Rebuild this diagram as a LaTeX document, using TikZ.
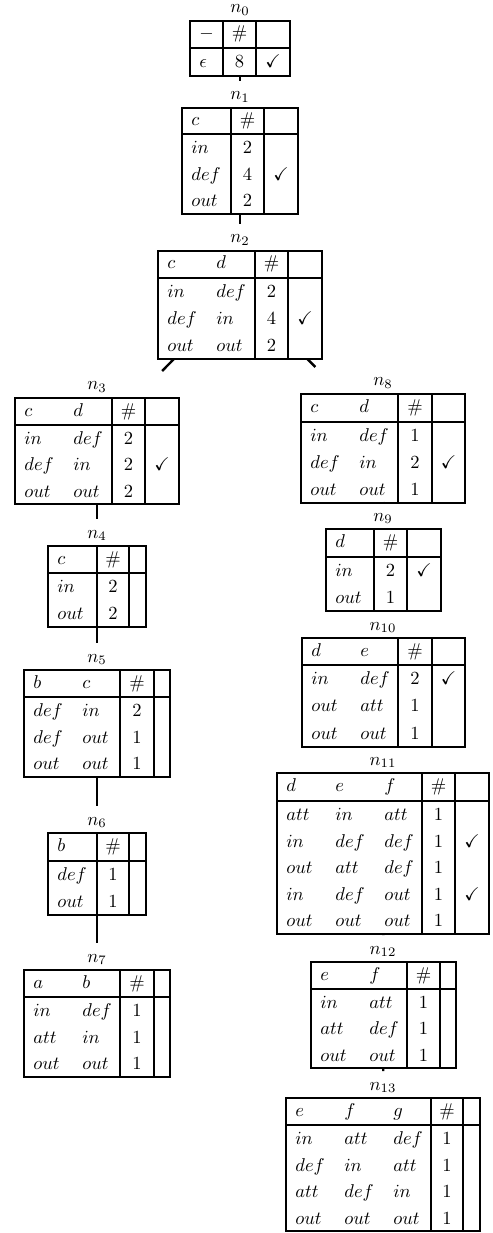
\documentclass[tikz,border=0pt]{standalone}
\usepackage{amssymb}
\usetikzlibrary{fit}
\tikzset{
  tline/.style={line width=1.3pt},
  conn/.style={line width=1.3pt},
  nmtxt/.style={anchor=base west, inner sep=0pt},
  cttxt/.style={anchor=base, inner sep=0pt},
  lbl/.style={anchor=base, inner sep=0pt},
  tbox/.style={inner sep=0pt, outer sep=0pt, draw=none},
}
\newcommand\Lc[4]{\node[nmtxt] (#1) at (#2,#3) {$#4$};}
\newcommand\Cc[4]{\node[cttxt] (#1) at (#2,#3) {$#4$};}
\newcommand\tabgrid[7]{%
  \draw[tline] (#1,#5) rectangle (#4,#7);
  \draw[tline] (#1,#6) -- (#4,#6);
  \draw[tline] (#2,#5) -- (#2,#7);
  \draw[tline] (#3,#5) -- (#3,#7);}
\begin{document}
\begin{tikzpicture}[x=0.54pt,y=-0.54pt]
\useasboundingbox (0,0) rectangle (493,1233);

% n0
\tabgrid{190}{223}{256}{290}{21}{48}{76}
\node[lbl] (l0) at (240,13) {$n_{0}$};
\Lc{t0-0-1}{199}{39}{-}
\Cc{t0-0-2}{239.5}{39}{\#}
\Lc{t0-1-1}{199}{67.5}{\epsilon}
\Cc{t0-1-2}{239.5}{67.5}{8}
\Cc{t0-1-3}{273}{67.5}{\checkmark}
\node[tbox, fit={(190,-6) (290,76)}] (n0) {};

% n1
\tabgrid{182}{231}{264}{298}{108}{134}{214}
\node[lbl] (l1) at (240,100) {$n_{1}$};
\Lc{t1-0-1}{191}{126}{c}
\Cc{t1-0-2}{247.5}{126}{\#}
\Lc{t1-1-1}{191}{153.5}{in}
\Cc{t1-1-2}{247.5}{153.5}{2}
\Lc{t1-2-1}{191}{180.2}{def}
\Cc{t1-2-2}{247.5}{180.2}{4}
\Cc{t1-2-3}{281}{180.2}{\checkmark}
\Lc{t1-3-1}{191}{206.8}{out}
\Cc{t1-3-2}{247.5}{206.8}{2}
\node[tbox, fit={(182,81) (298,214)}] (n1) {};

% n2
\tabgrid{158}{255}{288}{322}{251}{278}{359}
\node[lbl] (l2) at (240,243) {$n_{2}$};
\Lc{t2-0-1}{167}{269}{c}
\Lc{t2-0-2}{216}{269}{d}
\Cc{t2-0-3}{271.5}{269}{\#}
\Lc{t2-1-1}{167}{297.5}{in}
\Lc{t2-1-2}{216}{297.5}{def}
\Cc{t2-1-3}{271.5}{297.5}{2}
\Lc{t2-2-1}{167}{324.5}{def}
\Lc{t2-2-2}{216}{324.5}{in}
\Cc{t2-2-3}{271.5}{324.5}{4}
\Cc{t2-2-4}{305}{324.5}{\checkmark}
\Lc{t2-3-1}{167}{351.5}{out}
\Lc{t2-3-2}{216}{351.5}{out}
\Cc{t2-3-3}{271.5}{351.5}{2}
\node[tbox, fit={(158,224) (322,359)}] (n2) {};

% n3
\tabgrid{15}{112}{145}{179}{398}{425}{504}
\node[lbl] (l3) at (97,390) {$n_{3}$};
\Lc{t3-0-1}{24}{416}{c}
\Lc{t3-0-2}{73}{416}{d}
\Cc{t3-0-3}{128.5}{416}{\#}
\Lc{t3-1-1}{24}{444.5}{in}
\Lc{t3-1-2}{73}{444.5}{def}
\Cc{t3-1-3}{128.5}{444.5}{2}
\Lc{t3-2-1}{24}{470.8}{def}
\Lc{t3-2-2}{73}{470.8}{in}
\Cc{t3-2-3}{128.5}{470.8}{2}
\Cc{t3-2-4}{162}{470.8}{\checkmark}
\Lc{t3-3-1}{24}{497.2}{out}
\Lc{t3-3-2}{73}{497.2}{out}
\Cc{t3-3-3}{128.5}{497.2}{2}
\node[tbox, fit={(15,371) (179,504)}] (n3) {};

% n4
\tabgrid{48}{97}{129}{146}{546}{573}{627}
\node[lbl] (l4) at (97,538) {$n_{4}$};
\Lc{t4-0-1}{57}{564}{c}
\Cc{t4-0-2}{113}{564}{\#}
\Lc{t4-1-1}{57}{592.5}{in}
\Cc{t4-1-2}{113}{592.5}{2}
\Lc{t4-2-1}{57}{619.5}{out}
\Cc{t4-2-2}{113}{619.5}{2}
\node[tbox, fit={(48,519) (146,627)}] (n4) {};

% n5
\tabgrid{24}{120}{154}{170}{670}{697}{777}
\node[lbl] (l5) at (97,662) {$n_{5}$};
\Lc{t5-0-1}{33}{688}{b}
\Lc{t5-0-2}{82}{688}{c}
\Cc{t5-0-3}{137}{688}{\#}
\Lc{t5-1-1}{33}{716.5}{def}
\Lc{t5-1-2}{82}{716.5}{in}
\Cc{t5-1-3}{137}{716.5}{2}
\Lc{t5-2-1}{33}{743.2}{def}
\Lc{t5-2-2}{82}{743.2}{out}
\Cc{t5-2-3}{137}{743.2}{1}
\Lc{t5-3-1}{33}{769.8}{out}
\Lc{t5-3-2}{82}{769.8}{out}
\Cc{t5-3-3}{137}{769.8}{1}
\node[tbox, fit={(24,643) (170,777)}] (n5) {};

% n6
\tabgrid{48}{97}{129}{146}{833}{861}{915}
\node[lbl] (l6) at (97,825) {$n_{6}$};
\Lc{t6-0-1}{57}{851}{b}
\Cc{t6-0-2}{113}{851}{\#}
\Lc{t6-1-1}{57}{880.5}{def}
\Cc{t6-1-2}{113}{880.5}{1}
\Lc{t6-2-1}{57}{907.5}{out}
\Cc{t6-2-2}{113}{907.5}{1}
\node[tbox, fit={(48,806) (146,915)}] (n6) {};

% n7
\tabgrid{24}{120}{154}{170}{970}{997}{1077}
\node[lbl] (l7) at (97,962) {$n_{7}$};
\Lc{t7-0-1}{33}{988}{a}
\Lc{t7-0-2}{82}{988}{b}
\Cc{t7-0-3}{137}{988}{\#}
\Lc{t7-1-1}{33}{1016.5}{in}
\Lc{t7-1-2}{82}{1016.5}{def}
\Cc{t7-1-3}{137}{1016.5}{1}
\Lc{t7-2-1}{33}{1043.2}{att}
\Lc{t7-2-2}{82}{1043.2}{in}
\Cc{t7-2-3}{137}{1043.2}{1}
\Lc{t7-3-1}{33}{1069.8}{out}
\Lc{t7-3-2}{82}{1069.8}{out}
\Cc{t7-3-3}{137}{1069.8}{1}
\node[tbox, fit={(24,943) (170,1077)}] (n7) {};

% n8
\tabgrid{301}{398}{432}{465}{394}{422}{503}
\node[lbl] (l8) at (383,386) {$n_{8}$};
\Lc{t8-0-1}{310}{412}{c}
\Lc{t8-0-2}{359}{412}{d}
\Cc{t8-0-3}{415}{412}{\#}
\Lc{t8-1-1}{310}{441.5}{in}
\Lc{t8-1-2}{359}{441.5}{def}
\Cc{t8-1-3}{415}{441.5}{1}
\Lc{t8-2-1}{310}{468.5}{def}
\Lc{t8-2-2}{359}{468.5}{in}
\Cc{t8-2-3}{415}{468.5}{2}
\Cc{t8-2-4}{448.5}{468.5}{\checkmark}
\Lc{t8-3-1}{310}{495.5}{out}
\Lc{t8-3-2}{359}{495.5}{out}
\Cc{t8-3-3}{415}{495.5}{1}
\node[tbox, fit={(301,367) (465,503)}] (n8) {};

% n9
\tabgrid{326}{374}{407}{441}{529}{557}{611}
\node[lbl] (l9) at (383,521) {$n_{9}$};
\Lc{t9-0-1}{335}{547}{d}
\Cc{t9-0-2}{390.5}{547}{\#}
\Lc{t9-1-1}{335}{576.5}{in}
\Cc{t9-1-2}{390.5}{576.5}{2}
\Cc{t9-1-3}{424}{576.5}{\checkmark}
\Lc{t9-2-1}{335}{603.5}{out}
\Cc{t9-2-2}{390.5}{603.5}{1}
\node[tbox, fit={(326,502) (441,611)}] (n9) {};

% n10
\tabgrid{302}{398}{432}{465}{638}{665}{747}
\node[lbl] (l10) at (383,630) {$n_{10}$};
\Lc{t10-0-1}{311}{656}{d}
\Lc{t10-0-2}{360}{656}{e}
\Cc{t10-0-3}{415}{656}{\#}
\Lc{t10-1-1}{311}{684.5}{in}
\Lc{t10-1-2}{360}{684.5}{def}
\Cc{t10-1-3}{415}{684.5}{2}
\Cc{t10-1-4}{448.5}{684.5}{\checkmark}
\Lc{t10-2-1}{311}{711.8}{out}
\Lc{t10-2-2}{360}{711.8}{att}
\Cc{t10-2-3}{415}{711.8}{1}
\Lc{t10-3-1}{311}{739.2}{out}
\Lc{t10-3-2}{360}{739.2}{out}
\Cc{t10-3-3}{415}{739.2}{1}
\node[tbox, fit={(302,611) (465,747)}] (n10) {};

% n11
\tabgrid{277}{422}{455}{489}{773}{801}{934}
\node[lbl] (l11) at (383,765) {$n_{11}$};
\Lc{t11-0-1}{286}{791}{d}
\Lc{t11-0-2}{335}{791}{e}
\Lc{t11-0-3}{384}{791}{f}
\Cc{t11-0-4}{438.5}{791}{\#}
\Lc{t11-1-1}{286}{820.5}{att}
\Lc{t11-1-2}{335}{820.5}{in}
\Lc{t11-1-3}{384}{820.5}{att}
\Cc{t11-1-4}{438.5}{820.5}{1}
\Lc{t11-2-1}{286}{847.1}{in}
\Lc{t11-2-2}{335}{847.1}{def}
\Lc{t11-2-3}{384}{847.1}{def}
\Cc{t11-2-4}{438.5}{847.1}{1}
\Cc{t11-2-5}{472}{847.1}{\checkmark}
\Lc{t11-3-1}{286}{873.7}{out}
\Lc{t11-3-2}{335}{873.7}{att}
\Lc{t11-3-3}{384}{873.7}{def}
\Cc{t11-3-4}{438.5}{873.7}{1}
\Lc{t11-4-1}{286}{900.3}{in}
\Lc{t11-4-2}{335}{900.3}{def}
\Lc{t11-4-3}{384}{900.3}{out}
\Cc{t11-4-4}{438.5}{900.3}{1}
\Cc{t11-4-5}{472}{900.3}{\checkmark}
\Lc{t11-5-1}{286}{926.9}{out}
\Lc{t11-5-2}{335}{926.9}{out}
\Lc{t11-5-3}{384}{926.9}{out}
\Cc{t11-5-4}{438.5}{926.9}{1}
\node[tbox, fit={(277,746) (489,934)}] (n11) {};

% n12
\tabgrid{311}{407}{440}{456}{962}{989}{1068}
\node[lbl] (l12) at (383,954) {$n_{12}$};
\Lc{t12-0-1}{320}{980}{e}
\Lc{t12-0-2}{369}{980}{f}
\Cc{t12-0-3}{423.5}{980}{\#}
\Lc{t12-1-1}{320}{1008.5}{in}
\Lc{t12-1-2}{369}{1008.5}{att}
\Cc{t12-1-3}{423.5}{1008.5}{1}
\Lc{t12-2-1}{320}{1034.8}{att}
\Lc{t12-2-2}{369}{1034.8}{def}
\Cc{t12-2-3}{423.5}{1034.8}{1}
\Lc{t12-3-1}{320}{1061.2}{out}
\Lc{t12-3-2}{369}{1061.2}{out}
\Cc{t12-3-3}{423.5}{1061.2}{1}
\node[tbox, fit={(311,935) (456,1068)}] (n12) {};

% n13
\tabgrid{286}{431}{463}{480}{1098}{1125}{1231}
\node[lbl] (l13) at (383,1090) {$n_{13}$};
\Lc{t13-0-1}{295}{1116}{e}
\Lc{t13-0-2}{344}{1116}{f}
\Lc{t13-0-3}{393}{1116}{g}
\Cc{t13-0-4}{447}{1116}{\#}
\Lc{t13-1-1}{295}{1144.5}{in}
\Lc{t13-1-2}{344}{1144.5}{att}
\Lc{t13-1-3}{393}{1144.5}{def}
\Cc{t13-1-4}{447}{1144.5}{1}
\Lc{t13-2-1}{295}{1171}{def}
\Lc{t13-2-2}{344}{1171}{in}
\Lc{t13-2-3}{393}{1171}{att}
\Cc{t13-2-4}{447}{1171}{1}
\Lc{t13-3-1}{295}{1197.5}{att}
\Lc{t13-3-2}{344}{1197.5}{def}
\Lc{t13-3-3}{393}{1197.5}{in}
\Cc{t13-3-4}{447}{1197.5}{1}
\Lc{t13-4-1}{295}{1224}{out}
\Lc{t13-4-2}{344}{1224}{out}
\Lc{t13-4-3}{393}{1224}{out}
\Cc{t13-4-4}{447}{1224}{1}
\node[tbox, fit={(286,1071) (480,1231)}] (n13) {};

% connectors
\draw[conn] (n0) -- (n1);
\draw[conn] (n1) -- (n2);
\draw[conn] (n2) -- (n3);
\draw[conn] (n3) -- (n4);
\draw[conn] (n4) -- (n5);
\draw[conn] (n5) -- (n6);
\draw[conn] (n6) -- (n7);
\draw[conn] (n2) -- (n8);
\draw[conn] (n8) -- (n9);
\draw[conn] (n9) -- (n10);
\draw[conn] (n10) -- (n11);
\draw[conn] (n11) -- (n12);
\draw[conn] (n12) -- (n13);
\end{tikzpicture}
\end{document}
